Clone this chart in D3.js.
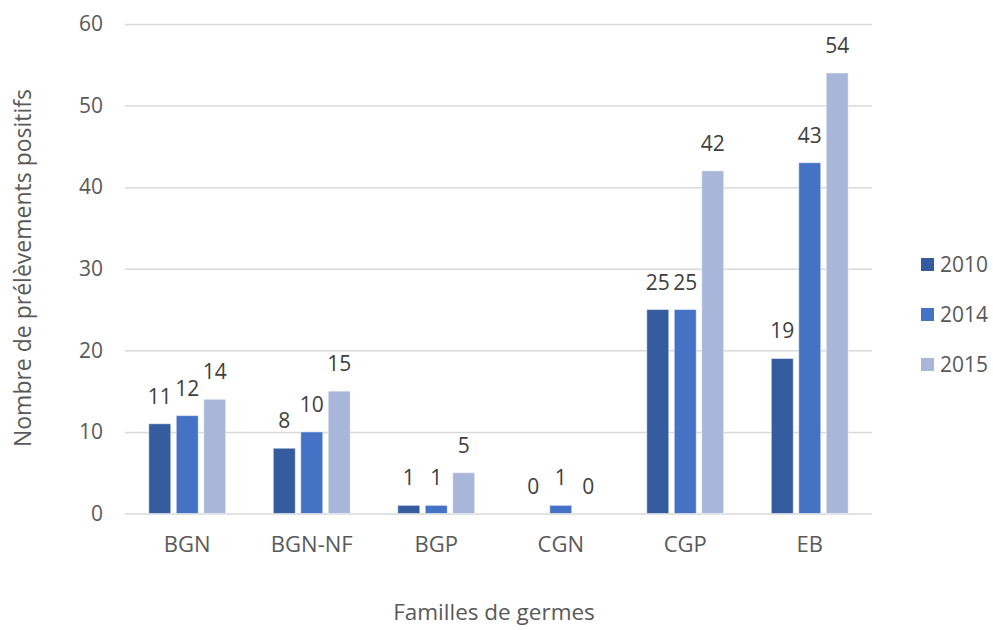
<!DOCTYPE html>
<html>
<head>
<meta charset="utf-8">
<script src="https://cdn.jsdelivr.net/npm/d3@7"></script>
<style>
  html, body { margin: 0; padding: 0; background: #fff; }
  svg { display: block; font-family: "Open Sans", "Noto Sans", sans-serif; }
</style>
</head>
<body>
<svg id="chart" width="993" height="630"></svg>
<script>
const categories = ["BGN", "BGN-NF", "BGP", "CGN", "CGP", "EB"];
const seriesNames = ["2010", "2014", "2015"];
const values2010 = [11, 8, 1, 0, 25, 19];
const values2014 = [12, 10, 1, 1, 25, 43];
const values2015 = [14, 15, 5, 0, 42, 54];
const yTicks = [0, 10, 20, 30, 40, 50, 60];
const colors = ["#345C9F", "#4472C4", "#A8B6DA"];

const seriesValues = [values2010, values2014, values2015];
const data = categories.map((c, i) => ({
  cat: c,
  vals: seriesNames.map((s, j) => ({ key: s, value: seriesValues[j][i], color: colors[j] }))
}));

const svg = d3.select("#chart");
const plotLeft = 125, plotRight = 872, plotTop = 24, plotBottom = 513.5;

const x0 = d3.scaleBand().domain(categories).range([plotLeft, plotRight])
  .paddingInner(0.382).paddingOuter(0.191);
const x1 = d3.scaleBand().domain(seriesNames).range([0, x0.bandwidth()]).paddingInner(0.2);
const y = d3.scaleLinear().domain([0, 60]).range([plotBottom, plotTop]);

// gridlines
const yAxis = d3.axisLeft(y).tickValues(yTicks).tickSize(-(plotRight - plotLeft)).tickPadding(22);
const gy = svg.append("g").attr("transform", `translate(${plotLeft},0)`).call(yAxis);
gy.select(".domain").remove();
gy.selectAll(".tick line").attr("stroke", "#d9d9d9").attr("stroke-width", 1.5);
gy.selectAll(".tick text").attr("fill", "#595959").attr("font-size", 21)
  .attr("font-family", "'Open Sans', sans-serif");

// bars
const groups = svg.append("g").selectAll("g").data(data).join("g")
  .attr("transform", d => `translate(${x0(d.cat)},0)`);
groups.selectAll("rect").data(d => d.vals).join("rect")
  .attr("x", d => x1(d.key))
  .attr("y", d => y(d.value))
  .attr("width", x1.bandwidth())
  .attr("height", d => y(0) - y(d.value))
  .attr("fill", d => d.color)
  .attr("stroke", "#ffffff")
  .attr("stroke-opacity", 0.5)
  .attr("stroke-width", 1);
groups.selectAll("text").data(d => d.vals).join("text")
  .attr("x", d => x1(d.key) + x1.bandwidth() / 2)
  .attr("y", d => y(d.value) - 20)
  .attr("text-anchor", "middle")
  .attr("font-size", 21)
  .attr("fill", "#404040")
  .text(d => d.value);

// x axis labels
const xAxis = d3.axisBottom(x0).tickSize(0).tickPadding(23);
const gx = svg.append("g").attr("transform", `translate(0,${plotBottom})`).call(xAxis);
gx.select(".domain").remove();
gx.selectAll(".tick text").attr("fill", "#595959").attr("font-size", 22)
  .attr("font-family", "'Open Sans', sans-serif");

// axis titles
svg.append("text")
  .attr("x", 494).attr("y", 620)
  .attr("text-anchor", "middle")
  .attr("font-size", 22.5).attr("fill", "#595959")
  .text("Familles de germes");
svg.append("text")
  .attr("transform", "translate(31,268) rotate(-90)")
  .attr("text-anchor", "middle")
  .attr("font-size", 23).attr("fill", "#595959")
  .text("Nombre de prélèvements positifs");

// legend
const legend = svg.append("g").selectAll("g").data(seriesNames).join("g")
  .attr("transform", (d, i) => `translate(921,${264.5 + i * 50})`);
legend.append("rect").attr("x", 0).attr("y", -6.5).attr("width", 13).attr("height", 13)
  .attr("fill", (d, i) => colors[i]);
legend.append("text").attr("x", 19).attr("dy", "0.35em")
  .attr("font-size", 21).attr("fill", "#595959").text(d => d);
</script>
</body>
</html>
